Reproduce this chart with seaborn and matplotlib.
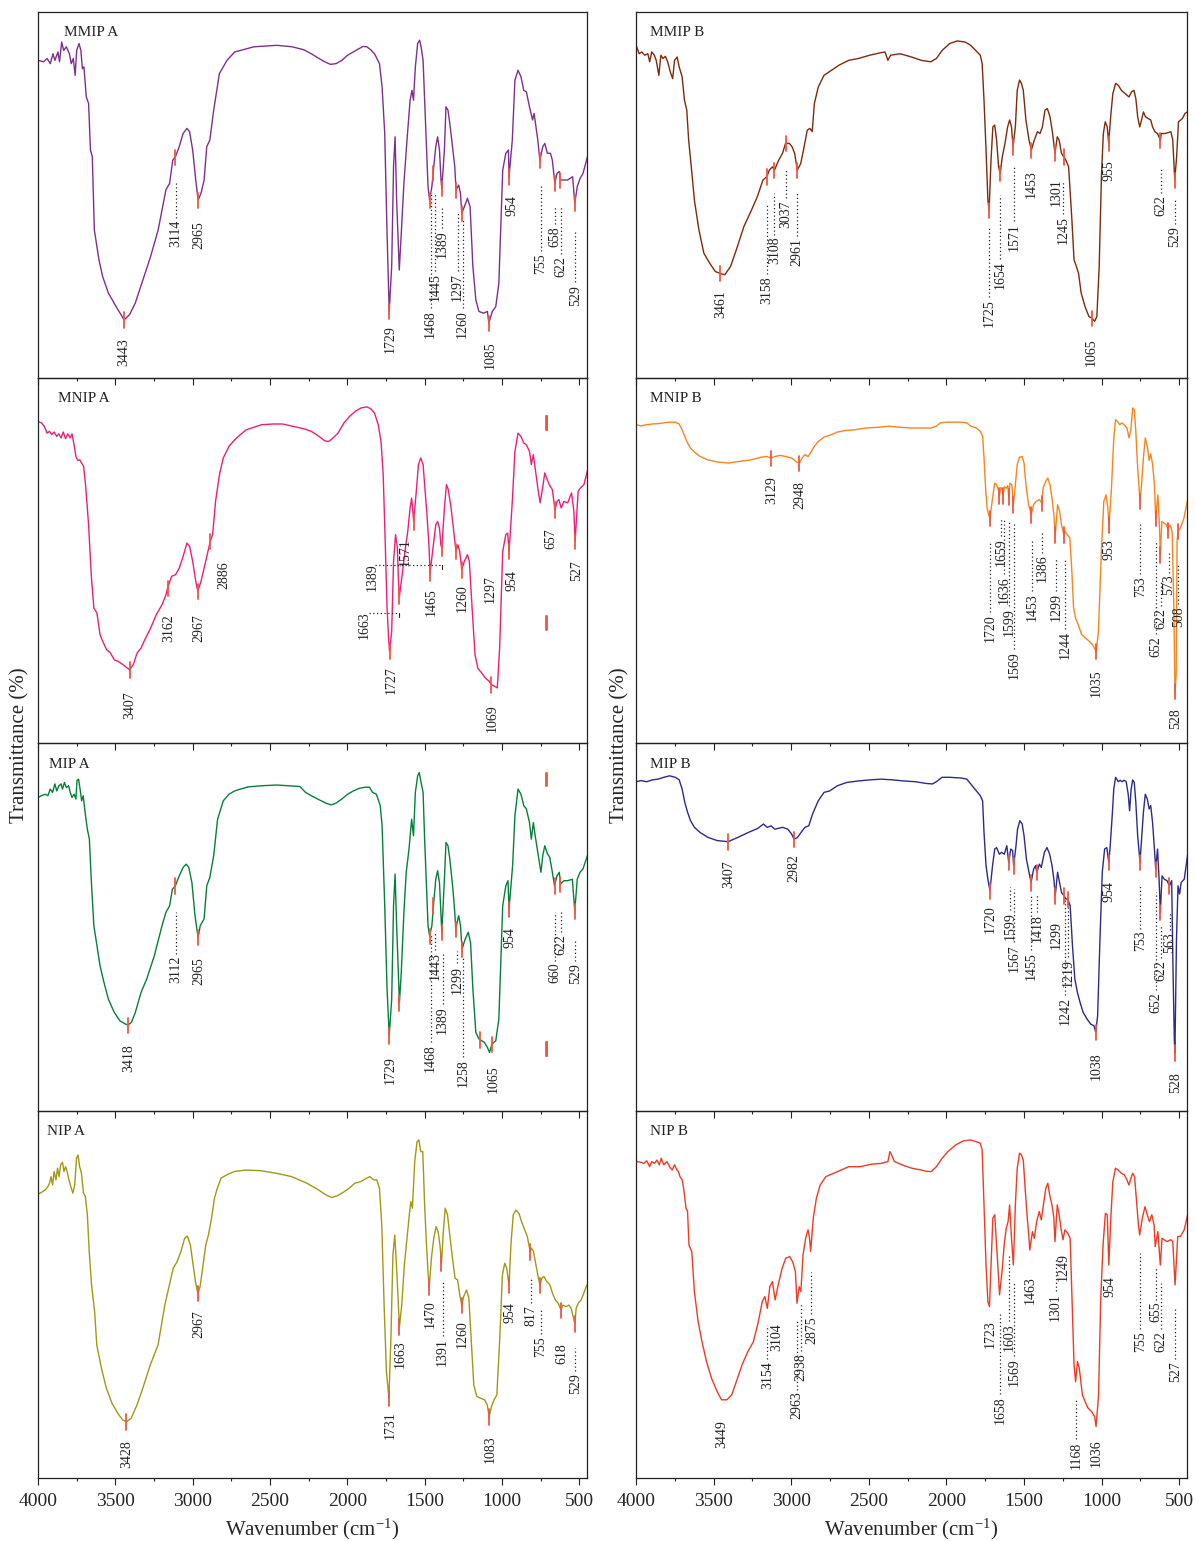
import numpy as np
import matplotlib
matplotlib.use("Agg")
import matplotlib.pyplot as plt
import seaborn as sns

# style
sns.set_style("white")
plt.rcParams['font.family'] = ['Liberation Serif', 'DejaVu Serif']
plt.rcParams['mathtext.fontset'] = 'custom'
plt.rcParams['mathtext.rm'] = 'Liberation Serif'
plt.rcParams['mathtext.it'] = 'Liberation Serif:italic'

# ---------------- spectra (wavenumber, transmittance as % of panel) ----------------
mmip_a_wn = [4000, 3965, 3941, 3921, 3903, 3891, 3871, 3861, 3847, 3834,
             3817, 3797, 3785, 3772, 3760, 3750, 3735, 3723, 3713, 3703,
             3688, 3673, 3661, 3649, 3636, 3606, 3582, 3545, 3495, 3443,
             3408, 3371, 3322, 3272, 3223, 3173, 3149, 3129, 3111, 3087,
             3062, 3037, 3020, 3000, 2980, 2965, 2946, 2926, 2909, 2889,
             2864, 2827, 2778, 2728, 2691, 2604, 2456, 2357, 2282, 2233,
             2183, 2146, 2109, 2072, 2035, 1998, 1961, 1923, 1899, 1874,
             1849, 1824, 1792, 1775, 1758, 1743, 1729, 1713, 1701, 1691,
             1681, 1664, 1651, 1634, 1614, 1594, 1582, 1572, 1560, 1545,
             1532, 1523, 1510, 1500, 1490, 1478, 1468, 1453, 1441, 1428,
             1416, 1404, 1394, 1389, 1372, 1362, 1349, 1337, 1322, 1305,
             1297, 1280, 1268, 1260, 1243, 1223, 1206, 1188, 1169, 1149,
             1119, 1094, 1085, 1062, 1040, 1020, 995, 975, 958, 954,
             933, 916, 896, 877, 859, 842, 822, 802, 792, 780,
             768, 755, 736, 723, 706, 686, 674, 658, 644, 629,
             622, 599, 575, 543, 529, 513, 495, 476, 444]
mmip_a_tr = [86.8, 86.4, 87.3, 85.9, 88.6, 86.8, 89.1, 86.4, 91.8, 89.5,
             90.5, 88.6, 85.9, 87.3, 82.7, 89.5, 91.4, 89.5, 84.5, 85.0,
             76.8, 75.0, 62.3, 60.5, 40.5, 32.3, 27.7, 23.2, 19.5, 15.9,
             17.3, 20.5, 26.8, 33.2, 40.5, 51.4, 53.2, 59.5, 60.5, 63.2,
             66.8, 68.2, 67.3, 62.3, 54.1, 48.6, 50.5, 54.1, 63.2, 65.0,
             73.2, 83.2, 86.8, 89.1, 89.5, 90.5, 90.9, 90.5, 89.7, 88.6,
             87.3, 86.4, 85.7, 85.9, 86.8, 88.2, 89.1, 90.0, 90.6, 90.5,
             89.7, 88.6, 85.9, 79.5, 66.8, 39.5, 18.2, 30.5, 57.7, 65.9,
             48.6, 29.5, 39.5, 53.2, 65.0, 75.9, 78.6, 75.9, 85.0, 91.4,
             92.3, 90.5, 86.8, 75.9, 65.0, 52.3, 48.6, 52.3, 57.7, 63.2,
             65.9, 62.3, 54.1, 51.8, 62.3, 74.1, 73.2, 69.5, 64.1, 57.7,
             51.4, 52.7, 50.5, 45.0, 46.8, 49.1, 46.8, 30.5, 21.4, 18.2,
             17.7, 18.2, 15.0, 18.2, 19.5, 25.9, 56.8, 61.4, 62.3, 55.0,
             65.0, 81.4, 84.1, 82.3, 78.6, 78.2, 74.1, 70.5, 72.3, 68.6,
             65.0, 59.5, 63.2, 64.1, 61.4, 61.4, 59.5, 53.2, 55.9, 56.4,
             54.1, 54.1, 54.1, 55.0, 47.7, 52.3, 54.5, 55.9, 60.9]

mmip_b_wn = [4000, 3980, 3963, 3944, 3924, 3912, 3899, 3882, 3870, 3853,
             3840, 3826, 3811, 3796, 3779, 3764, 3752, 3735, 3722, 3703,
             3688, 3673, 3661, 3644, 3624, 3595, 3563, 3526, 3489, 3461,
             3428, 3391, 3354, 3305, 3256, 3219, 3182, 3158, 3141, 3121,
             3108, 3081, 3056, 3037, 3012, 2995, 2978, 2961, 2939, 2921,
             2897, 2880, 2865, 2851, 2826, 2789, 2740, 2691, 2630, 2568,
             2494, 2433, 2396, 2377, 2360, 2298, 2224, 2163, 2101, 2065,
             2028, 1979, 1930, 1880, 1844, 1812, 1782, 1770, 1758, 1745,
             1733, 1725, 1713, 1701, 1689, 1677, 1664, 1654, 1640, 1623,
             1606, 1593, 1581, 1571, 1556, 1544, 1529, 1517, 1505, 1488,
             1468, 1453, 1434, 1414, 1397, 1382, 1365, 1350, 1333, 1316,
             1301, 1286, 1274, 1259, 1245, 1230, 1213, 1193, 1178, 1163,
             1149, 1132, 1107, 1082, 1065, 1045, 1031, 1016, 1001, 989,
             977, 964, 955, 942, 928, 910, 893, 873, 849, 824,
             807, 792, 780, 768, 755, 743, 731, 718, 701, 684,
             672, 657, 640, 622, 616, 591, 554, 542, 529, 517,
             505, 480, 463, 448]
mmip_b_tr = [91.0, 88.6, 89.1, 88.2, 88.6, 86.4, 89.1, 88.2, 86.8, 82.7,
             88.2, 87.3, 87.9, 86.4, 83.6, 81.8, 86.8, 87.7, 85.0, 82.3,
             75.9, 73.2, 65.0, 57.7, 48.6, 40.5, 34.1, 31.4, 29.1, 28.6,
             28.2, 30.5, 35.0, 41.4, 45.9, 49.5, 54.1, 55.0, 56.8, 57.7,
             56.8, 59.5, 61.4, 64.1, 64.1, 63.2, 61.4, 56.8, 58.6, 62.3,
             67.7, 68.2, 67.3, 75.0, 79.5, 82.7, 84.1, 85.5, 86.8, 87.3,
             88.2, 88.8, 89.1, 86.8, 88.2, 88.6, 87.7, 86.8, 86.4, 87.3,
             89.5, 91.4, 92.1, 91.8, 90.9, 89.5, 88.2, 85.9, 75.9, 62.3,
             48.6, 45.9, 59.5, 68.6, 69.1, 65.0, 57.7, 55.9, 60.5, 64.1,
             68.6, 70.5, 68.6, 63.2, 68.6, 78.6, 81.4, 80.5, 78.6, 70.5,
             65.0, 62.3, 65.0, 67.3, 66.8, 68.6, 73.2, 73.6, 71.4, 66.8,
             61.4, 65.9, 65.0, 61.4, 60.5, 59.5, 57.7, 44.1, 32.3, 30.5,
             28.6, 23.2, 19.5, 16.8, 16.4, 15.5, 16.8, 30.5, 55.9, 66.8,
             70.0, 68.6, 64.1, 71.4, 77.7, 80.5, 80.0, 78.6, 77.7, 76.8,
             78.2, 78.6, 76.4, 71.4, 68.6, 70.5, 72.7, 71.4, 70.9, 70.5,
             68.6, 67.3, 66.8, 65.0, 66.8, 66.8, 67.3, 65.0, 54.1, 60.5,
             70.0, 70.9, 72.3, 72.7]

mnip_a_wn = [4000, 3978, 3960, 3941, 3926, 3911, 3896, 3879, 3866, 3851,
             3837, 3822, 3807, 3792, 3780, 3767, 3755, 3743, 3730, 3718,
             3705, 3693, 3673, 3656, 3639, 3619, 3599, 3582, 3557, 3532,
             3507, 3483, 3451, 3421, 3407, 3384, 3359, 3334, 3310, 3272,
             3235, 3198, 3173, 3162, 3136, 3111, 3087, 3062, 3037, 3020,
             3000, 2980, 2967, 2946, 2926, 2906, 2886, 2871, 2852, 2827,
             2802, 2765, 2728, 2691, 2654, 2604, 2555, 2480, 2419, 2357,
             2282, 2233, 2183, 2146, 2121, 2097, 2060, 2022, 1985, 1948,
             1911, 1874, 1849, 1824, 1800, 1782, 1768, 1755, 1743, 1733,
             1727, 1713, 1701, 1688, 1676, 1669, 1663, 1648, 1627, 1609,
             1594, 1584, 1578, 1571, 1552, 1540, 1525, 1510, 1498, 1485,
             1471, 1465, 1446, 1428, 1416, 1404, 1395, 1389, 1372, 1359,
             1347, 1329, 1312, 1297, 1285, 1273, 1260, 1243, 1223, 1211,
             1193, 1174, 1156, 1131, 1107, 1082, 1069, 1045, 1030, 1015,
             995, 975, 963, 954, 933, 916, 896, 877, 859, 842,
             822, 810, 797, 785, 768, 753, 737, 723, 711, 694,
             674, 657, 644, 632, 617, 599, 575, 550, 535, 527,
             507, 492, 470, 443]
mnip_a_tr = [88.1, 87.7, 86.8, 84.9, 85.4, 84.5, 85.2, 84.0, 84.7, 83.6,
             85.2, 83.4, 84.7, 83.6, 84.7, 81.7, 78.5, 77.4, 77.6, 76.7,
             75.8, 70.8, 59.8, 46.1, 37.0, 35.6, 29.7, 27.9, 25.6, 24.7,
             22.8, 22.4, 21.5, 20.5, 20.1, 21.5, 24.7, 26.0, 28.3, 31.5,
             35.2, 37.9, 40.6, 42.5, 45.7, 46.1, 47.9, 51.1, 54.8, 53.9,
             49.8, 44.3, 41.6, 44.3, 47.9, 51.6, 55.3, 57.1, 66.2, 73.5,
             78.1, 81.3, 83.1, 84.5, 85.8, 86.5, 87.2, 87.4, 87.4, 86.8,
             86.1, 85.4, 84.0, 82.8, 82.6, 83.4, 84.9, 87.7, 89.5, 90.9,
             91.8, 92.1, 91.6, 90.4, 87.2, 82.6, 73.5, 55.3, 37.0, 28.8,
             25.1, 30.6, 49.8, 57.1, 53.4, 44.3, 40.2, 45.2, 52.5, 58.0,
             64.4, 67.1, 64.4, 60.7, 69.9, 76.3, 78.1, 76.3, 69.9, 62.6,
             53.4, 46.6, 53.4, 59.8, 60.7, 58.9, 54.3, 53.4, 64.4, 70.8,
             69.4, 64.4, 58.0, 52.5, 54.3, 52.5, 47.5, 49.8, 51.6, 49.8,
             37.0, 24.2, 20.5, 19.2, 17.8, 16.9, 16.0, 15.5, 15.1, 26.0,
             52.5, 57.1, 57.5, 52.5, 66.2, 79.9, 84.9, 84.0, 82.2, 81.7,
             79.9, 76.3, 79.0, 75.3, 69.9, 65.8, 69.9, 74.0, 72.6, 70.8,
             69.4, 63.9, 66.2, 66.7, 64.4, 66.2, 65.8, 68.5, 63.5, 55.3,
             69.0, 69.9, 70.8, 75.3]

mnip_b_wn = [4000, 3968, 3931, 3894, 3858, 3821, 3784, 3747, 3722, 3703,
             3686, 3668, 3649, 3624, 3587, 3538, 3477, 3403, 3330, 3256,
             3194, 3158, 3129, 3104, 3072, 3035, 2998, 2966, 2948, 2929,
             2912, 2892, 2875, 2851, 2826, 2789, 2740, 2703, 2654, 2593,
             2519, 2445, 2372, 2298, 2224, 2151, 2101, 2065, 2040, 2003,
             1954, 1905, 1868, 1844, 1807, 1782, 1767, 1758, 1748, 1738,
             1728, 1720, 1703, 1689, 1677, 1666, 1659, 1650, 1642, 1636,
             1627, 1615, 1605, 1599, 1591, 1579, 1569, 1556, 1544, 1529,
             1512, 1500, 1488, 1471, 1453, 1439, 1422, 1402, 1386, 1377,
             1360, 1347, 1333, 1320, 1308, 1299, 1284, 1271, 1259, 1244,
             1237, 1222, 1205, 1193, 1181, 1168, 1151, 1129, 1105, 1080,
             1058, 1035, 1021, 1001, 986, 972, 960, 953, 938, 923,
             911, 898, 884, 869, 855, 837, 824, 812, 800, 790,
             780, 768, 753, 743, 731, 719, 706, 694, 684, 672,
             660, 652, 638, 628, 622, 612, 600, 583, 573, 560,
             546, 535, 528, 520, 514, 508, 492, 470, 444]
mnip_b_tr = [87.2, 86.9, 87.2, 87.4, 87.5, 87.7, 87.9, 87.9, 87.4, 85.8,
             84.0, 82.2, 80.8, 79.7, 78.5, 77.6, 77.0, 76.7, 77.2, 77.6,
             78.3, 78.5, 78.1, 78.5, 78.8, 78.5, 78.1, 77.0, 76.7, 78.1,
             79.0, 78.5, 79.5, 81.3, 82.6, 83.8, 84.5, 85.2, 85.6, 85.8,
             86.3, 86.5, 86.8, 86.5, 86.3, 86.3, 86.3, 86.8, 87.7, 87.9,
             87.9, 87.9, 87.7, 86.8, 86.3, 85.4, 84.0, 78.1, 69.9, 64.4,
             62.6, 61.6, 67.1, 71.2, 70.8, 69.5, 67.8, 70.0, 69.5, 67.8,
             70.2, 69.8, 70.5, 67.5, 71.2, 70.8, 65.3, 70.8, 76.3, 78.3,
             78.5, 76.7, 70.8, 65.3, 62.6, 65.3, 66.2, 66.7, 65.8, 69.9,
             71.7, 72.6, 70.8, 67.1, 62.6, 57.1, 65.3, 63.5, 59.8, 57.1,
             58.0, 57.1, 56.2, 47.9, 37.0, 34.2, 32.4, 29.7, 28.8, 27.9,
             26.9, 25.1, 30.6, 53.4, 66.2, 68.0, 64.4, 59.8, 68.9, 82.6,
             88.6, 88.1, 87.2, 87.7, 87.2, 86.3, 83.6, 85.8, 91.8, 91.3,
             85.4, 75.3, 66.2, 70.8, 78.1, 83.6, 81.3, 77.4, 79.2, 76.4,
             70.8, 61.6, 68.0, 59.8, 51.6, 60.7, 60.3, 59.8, 58.4, 59.8,
             58.0, 37.0, 14.2, 18.7, 55.3, 58.0, 58.9, 61.6, 67.1]

mip_a_wn = [4000, 3978, 3953, 3936, 3921, 3906, 3891, 3879, 3866, 3851,
            3842, 3829, 3817, 3802, 3792, 3780, 3767, 3755, 3748, 3738,
            3728, 3718, 3708, 3693, 3681, 3668, 3656, 3639, 3619, 3599,
            3574, 3545, 3507, 3470, 3433, 3418, 3396, 3371, 3334, 3297,
            3248, 3198, 3173, 3149, 3131, 3112, 3087, 3062, 3042, 3025,
            3005, 2985, 2965, 2951, 2926, 2909, 2889, 2864, 2839, 2802,
            2765, 2728, 2691, 2641, 2555, 2456, 2381, 2307, 2270, 2233,
            2183, 2134, 2104, 2072, 2035, 1998, 1961, 1923, 1886, 1856,
            1837, 1812, 1787, 1775, 1758, 1743, 1729, 1713, 1701, 1691,
            1681, 1669, 1663, 1651, 1634, 1619, 1601, 1584, 1572, 1560,
            1545, 1535, 1523, 1510, 1500, 1490, 1478, 1468, 1453, 1443,
            1428, 1416, 1404, 1394, 1389, 1372, 1362, 1349, 1337, 1317,
            1305, 1299, 1280, 1268, 1258, 1238, 1218, 1203, 1188, 1169,
            1149, 1131, 1114, 1094, 1080, 1065, 1040, 1020, 995, 975,
            961, 954, 931, 916, 896, 877, 859, 842, 822, 810,
            797, 785, 768, 748, 736, 723, 706, 691, 674, 660,
            644, 629, 622, 599, 575, 545, 529, 513, 495, 476,
            444]
mip_a_tr = [85.2, 85.7, 86.1, 85.7, 87.5, 86.6, 88.9, 87.0, 88.3, 88.9,
            87.5, 89.3, 87.9, 88.4, 86.6, 85.2, 86.1, 84.8, 89.8, 90.2,
            87.5, 84.3, 85.7, 80.3, 76.6, 73.9, 63.0, 50.4, 44.9, 39.5,
            35.0, 30.4, 26.8, 24.5, 23.6, 23.4, 24.1, 26.8, 32.2, 35.9,
            42.2, 50.4, 54.0, 55.8, 60.3, 61.2, 63.9, 66.2, 67.1, 66.2,
            62.1, 53.1, 47.2, 50.4, 52.2, 61.2, 63.5, 69.4, 79.3, 84.3,
            86.1, 87.0, 87.5, 88.1, 88.4, 88.6, 88.4, 88.2, 86.6, 85.7,
            84.6, 83.6, 83.2, 83.7, 84.8, 86.1, 87.0, 87.7, 88.0, 88.0,
            86.6, 86.1, 83.0, 77.5, 55.8, 33.2, 20.5, 30.4, 55.8, 64.4,
            50.4, 35.9, 29.5, 37.7, 54.0, 64.9, 71.2, 79.3, 74.8, 86.6,
            91.1, 92.0, 89.3, 86.6, 73.9, 63.0, 50.4, 47.6, 50.4, 55.8,
            63.0, 65.3, 62.1, 53.1, 48.6, 63.0, 73.0, 72.1, 68.5, 60.3,
            54.0, 49.5, 53.1, 50.4, 44.0, 46.7, 48.6, 45.8, 33.2, 21.4,
            19.6, 19.1, 18.7, 17.3, 15.9, 18.2, 19.1, 25.0, 55.8, 61.2,
            62.6, 54.9, 66.7, 80.3, 87.5, 86.1, 83.0, 82.1, 78.4, 73.9,
            78.4, 74.8, 70.3, 64.9, 69.4, 72.1, 69.9, 69.0, 64.9, 61.2,
            63.9, 64.9, 61.7, 62.6, 62.6, 63.0, 54.4, 63.0, 64.9, 65.8,
            69.8]

mip_b_wn = [4000, 3968, 3931, 3894, 3858, 3821, 3784, 3747, 3722, 3703,
            3686, 3668, 3649, 3624, 3587, 3538, 3477, 3407, 3342, 3277,
            3216, 3179, 3155, 3130, 3106, 3056, 3022, 2998, 2982, 2961,
            2937, 2912, 2887, 2863, 2826, 2789, 2752, 2703, 2642, 2568,
            2494, 2421, 2347, 2273, 2200, 2126, 2089, 2065, 2028, 1979,
            1905, 1868, 1844, 1807, 1782, 1767, 1758, 1745, 1733, 1720,
            1703, 1689, 1677, 1659, 1645, 1627, 1611, 1599, 1586, 1574,
            1567, 1552, 1542, 1527, 1512, 1500, 1485, 1468, 1455, 1438,
            1426, 1418, 1401, 1389, 1369, 1352, 1335, 1320, 1308, 1299,
            1284, 1271, 1259, 1242, 1230, 1219, 1203, 1188, 1173, 1156,
            1139, 1119, 1094, 1070, 1050, 1038, 1026, 1011, 996, 981,
            967, 954, 945, 932, 922, 910, 893, 881, 869, 855,
            842, 829, 820, 810, 800, 790, 780, 768, 753, 743,
            731, 719, 706, 694, 684, 672, 660, 652, 640, 630,
            622, 611, 596, 579, 563, 549, 540, 532, 528, 518,
            508, 498, 488, 468, 444]
mip_b_tr = [89.5, 89.8, 89.5, 90.0, 90.2, 90.7, 91.1, 90.7, 90.0, 87.5,
            83.9, 81.2, 78.9, 77.1, 75.7, 74.4, 73.5, 73.2, 74.4, 75.7,
            76.8, 78.0, 77.1, 77.5, 76.6, 77.1, 76.6, 75.3, 73.9, 74.3,
            75.7, 77.1, 77.5, 80.7, 84.3, 86.6, 87.0, 88.4, 89.3, 89.7,
            90.0, 90.2, 90.0, 89.7, 89.5, 89.0, 88.9, 89.5, 90.7, 90.7,
            90.5, 90.2, 88.9, 87.0, 85.7, 84.3, 75.7, 66.7, 63.0, 59.9,
            66.7, 71.2, 71.6, 69.8, 70.3, 69.8, 72.1, 67.6, 71.2, 70.8,
            66.7, 72.1, 76.6, 78.9, 78.0, 74.8, 68.5, 64.9, 62.1, 65.8,
            66.7, 64.9, 67.1, 66.2, 70.3, 71.6, 69.8, 66.7, 63.0, 58.5,
            64.9, 62.1, 59.4, 58.5, 57.6, 57.6, 55.8, 44.9, 35.9, 32.2,
            29.5, 26.8, 25.0, 23.6, 23.2, 21.4, 25.9, 46.7, 64.9, 71.2,
            71.6, 67.6, 72.1, 80.3, 87.5, 90.7, 89.5, 89.9, 89.5, 89.9,
            89.5, 86.1, 81.6, 87.5, 90.0, 89.3, 83.9, 74.8, 67.6, 73.9,
            81.2, 86.1, 84.8, 82.1, 83.0, 78.4, 71.2, 65.8, 71.2, 63.0,
            54.0, 63.9, 63.0, 62.6, 61.2, 62.6, 37.7, 19.6, 15.9, 46.7,
            61.2, 59.0, 62.1, 63.0, 70.3]

nip_a_wn = [4000, 3978, 3953, 3936, 3926, 3916, 3906, 3896, 3884, 3874,
            3864, 3854, 3842, 3832, 3822, 3812, 3800, 3788, 3775, 3763,
            3751, 3741, 3731, 3719, 3706, 3694, 3681, 3669, 3654, 3634,
            3620, 3590, 3558, 3521, 3484, 3452, 3428, 3397, 3360, 3323,
            3274, 3224, 3180, 3150, 3126, 3101, 3076, 3052, 3034, 3015,
            2997, 2982, 2967, 2952, 2933, 2915, 2898, 2878, 2859, 2841,
            2816, 2779, 2730, 2656, 2557, 2459, 2360, 2261, 2187, 2137,
            2101, 2064, 2027, 1989, 1952, 1915, 1878, 1854, 1829, 1809,
            1792, 1777, 1762, 1747, 1731, 1718, 1705, 1693, 1680, 1668,
            1663, 1648, 1631, 1614, 1599, 1589, 1579, 1564, 1549, 1537,
            1525, 1512, 1500, 1488, 1477, 1470, 1456, 1441, 1426, 1413,
            1401, 1391, 1379, 1367, 1352, 1335, 1317, 1303, 1287, 1273,
            1260, 1248, 1229, 1214, 1199, 1182, 1162, 1137, 1112, 1095,
            1083, 1068, 1051, 1033, 1014, 997, 982, 969, 954, 942,
            927, 910, 890, 873, 853, 836, 817, 809, 796, 784,
            772, 755, 742, 729, 710, 690, 673, 655, 636, 618,
            606, 586, 567, 552, 529, 520, 507, 488, 471, 451]
nip_a_tr = [77.3, 77.8, 78.5, 79.4, 80.3, 82.1, 79.8, 83.5, 81.2, 84.4,
            82.1, 85.3, 86.0, 83.5, 84.8, 83.5, 81.2, 79.4, 77.6, 79.8,
            87.1, 88.0, 84.8, 83.0, 77.6, 76.7, 71.7, 61.7, 52.6, 45.3,
            36.2, 29.9, 24.4, 20.3, 17.6, 15.8, 15.3, 16.3, 19.9, 24.4,
            30.8, 36.2, 47.1, 52.6, 57.1, 58.9, 61.7, 65.3, 65.9, 63.5,
            58.0, 53.5, 50.3, 52.1, 58.0, 63.5, 66.2, 70.8, 76.2, 78.9,
            81.7, 82.6, 83.5, 83.9, 83.7, 83.0, 82.1, 80.3, 78.5, 77.1,
            76.4, 76.9, 77.8, 78.9, 80.3, 80.7, 81.6, 82.1, 81.2, 81.2,
            78.9, 68.9, 47.1, 29.0, 21.7, 38.1, 60.8, 66.2, 56.2, 45.3,
            41.2, 47.1, 58.0, 65.3, 71.7, 75.3, 73.5, 86.2, 91.6, 92.1,
            88.9, 88.9, 74.4, 63.5, 55.3, 52.1, 59.9, 65.3, 68.5, 67.1,
            63.5, 58.5, 67.1, 73.5, 71.7, 65.3, 58.9, 54.4, 54.0, 49.9,
            47.1, 49.4, 51.2, 49.0, 38.1, 25.3, 22.2, 21.7, 21.3, 19.9,
            16.7, 19.4, 21.3, 22.6, 38.1, 55.3, 58.5, 57.1, 52.6, 63.5,
            71.7, 73.0, 72.1, 69.8, 67.6, 65.8, 61.7, 62.6, 61.7, 58.9,
            56.2, 52.6, 54.4, 54.9, 53.5, 52.6, 50.3, 48.5, 47.6, 45.8,
            47.1, 46.7, 47.1, 46.2, 42.1, 46.2, 47.6, 48.5, 50.3, 52.6]

nip_b_wn = [4000, 3968, 3949, 3931, 3912, 3899, 3882, 3865, 3850, 3838,
            3821, 3801, 3784, 3767, 3752, 3737, 3727, 3717, 3703, 3693,
            3678, 3668, 3659, 3641, 3624, 3600, 3575, 3546, 3514, 3477,
            3449, 3415, 3384, 3354, 3317, 3280, 3244, 3212, 3187, 3170,
            3154, 3138, 3121, 3104, 3084, 3059, 3035, 3010, 2991, 2973,
            2963, 2949, 2938, 2924, 2907, 2892, 2882, 2875, 2858, 2838,
            2814, 2777, 2728, 2679, 2630, 2556, 2482, 2421, 2377, 2365,
            2353, 2335, 2286, 2224, 2163, 2126, 2097, 2065, 2028, 1991,
            1942, 1893, 1844, 1807, 1782, 1770, 1758, 1745, 1733, 1723,
            1713, 1701, 1689, 1677, 1664, 1658, 1642, 1628, 1615, 1603,
            1593, 1581, 1569, 1556, 1544, 1529, 1517, 1505, 1493, 1481,
            1470, 1463, 1446, 1434, 1419, 1402, 1389, 1375, 1360, 1347,
            1335, 1320, 1308, 1301, 1286, 1274, 1262, 1249, 1237, 1218,
            1203, 1190, 1178, 1168, 1156, 1144, 1124, 1107, 1087, 1065,
            1045, 1036, 1020, 1006, 991, 976, 964, 954, 940, 928,
            911, 893, 873, 854, 837, 824, 812, 800, 788, 775,
            763, 755, 738, 721, 706, 692, 677, 662, 655, 638,
            622, 611, 598, 579, 554, 542, 527, 520, 510, 493,
            468, 444]
nip_b_tr = [86.2, 86.0, 85.7, 86.4, 84.8, 86.2, 85.7, 86.6, 85.3, 87.1,
            85.3, 86.2, 84.8, 83.9, 85.3, 83.9, 83.5, 82.1, 81.2, 78.9,
            73.5, 72.6, 63.5, 61.7, 50.8, 42.6, 37.1, 31.7, 27.2, 23.5,
            21.3, 21.3, 22.6, 26.2, 30.8, 34.4, 37.1, 42.6, 48.0, 49.4,
            46.2, 52.1, 53.5, 48.5, 52.6, 57.1, 59.9, 60.3, 58.9, 56.2,
            47.6, 52.1, 50.8, 60.8, 65.3, 67.6, 65.3, 61.7, 70.8, 76.2,
            79.8, 82.1, 83.0, 83.9, 84.8, 84.8, 85.5, 85.7, 86.2, 88.9,
            88.0, 86.2, 85.3, 84.4, 83.9, 83.5, 83.5, 84.8, 87.1, 88.9,
            90.7, 91.8, 92.1, 91.6, 91.2, 89.4, 74.4, 58.0, 48.0, 46.7,
            58.0, 70.8, 71.7, 63.5, 54.4, 49.9, 56.2, 63.5, 68.0, 69.8,
            74.4, 65.3, 58.0, 74.4, 84.4, 88.5, 88.0, 86.6, 78.9, 71.7,
            66.2, 62.1, 67.1, 65.3, 69.8, 72.6, 70.3, 74.4, 78.9, 80.3,
            77.1, 74.4, 70.8, 64.4, 74.4, 71.7, 68.0, 64.9, 67.6, 66.7,
            65.3, 47.1, 30.8, 26.2, 31.7, 29.9, 22.6, 20.8, 19.0, 18.1,
            16.7, 14.0, 22.6, 49.0, 63.5, 72.1, 71.7, 58.0, 71.7, 80.7,
            84.4, 83.9, 83.0, 82.6, 81.2, 79.8, 81.6, 83.0, 82.1, 75.3,
            68.9, 66.2, 70.8, 73.9, 71.7, 69.8, 71.7, 68.9, 63.0, 67.1,
            58.0, 65.3, 64.9, 64.4, 64.9, 64.4, 52.6, 58.0, 65.8, 65.8,
            67.6, 72.1]

# ---------------- labelled peaks ----------------
mmip_a_peaks = [3443, 3114, 2965, 1729, 1468, 1445, 1389, 1297, 1260, 1085,
                954, 755, 658, 622, 529]
mmip_b_peaks = [3461, 3158, 3108, 3037, 2961, 1725, 1654, 1571, 1453, 1301,
                1245, 1065, 955, 622, 529]
mnip_a_peaks = [3407, 3162, 2967, 2886, 1727, 1663, 1389, 1571, 1465, 1260,
                1297, 1069, 954, 657, 527]
mnip_b_peaks = [3129, 2948, 1720, 1659, 1636, 1599, 1569, 1453, 1386, 1299,
                1244, 1035, 953, 753, 652, 622, 573, 508, 528]
mip_a_peaks = [3418, 3112, 2965, 1729, 1468, 1443, 1389, 1299, 1258, 1065,
               954, 660, 622, 529]
mip_b_peaks = [3407, 2982, 1720, 1599, 1567, 1455, 1418, 1299, 1242, 1219,
               1038, 954, 753, 652, 622, 563, 528]
nip_a_peaks = [3428, 2967, 1731, 1663, 1470, 1391, 1260, 1083, 954, 817,
               755, 618, 529]
nip_b_peaks = [3449, 3154, 3104, 2963, 2938, 2875, 1723, 1658, 1603, 1569,
               1463, 1301, 1249, 1168, 1036, 954, 755, 655, 622, 527]

# ---------------- label placement: (text x, text top, dotted-line top) ----------------
mmip_a_pos = [(3446, 10.9, None), (3111, 43.2, 53.2), (2963, 42.7, None), (1725, 14.5, None),
              (1461, 18.6, 50.5), (1433, 28.6, 50.5), (1386, 40.5, 46.4), (1287, 28.6, 45.0),
              (1255, 18.6, 43.2), (1077, 10.0, None), (938, 50.0, None), (748, 34.1, 52.7),
              (656, 41.4, 46.8), (617, 33.2, 46.8), (525, 25.5, 40.5)]
mmip_b_pos = [(3457, 24.1, None), (3158, 27.7, 47.3), (3108, 38.6, 50.5), (3035, 48.6, 57.3),
              (2961, 38.2, 50.5), (1723, 21.4, 40.9), (1652, 31.8, 50.0), (1566, 42.3, 58.2),
              (1451, 56.8, None), (1291, 54.5, None), (1247, 44.1, 53.6), (1065, 10.9, None),
              (952, 59.5, None), (620, 50.0, 57.7), (530, 41.4, 48.6)]
mnip_a_pos = [(3404, 14.2, None), (3156, 35.2, None), (2963, 35.2, None), (2795, 49.8, None),
              (1718, 21.0, None), (1891, 36.1, None), (1842, 49.3, None), (1626, 56.2, None),
              (1458, 42.5, None), (1255, 43.4, None), (1075, 46.1, None), (1065, 10.5, None),
              (938, 47.5, None), (686, 58.9, None), (518, 50.2, None)]
mnip_b_pos = [(3128, 73.1, None), (2944, 71.7, None), (1718, 35.2, 54.8), (1647, 56.2, 61.6),
              (1630, 45.7, 61.2), (1598, 37.0, 60.7), (1566, 25.1, 60.3), (1448, 41.1, 55.7),
              (1384, 51.6, 57.5), (1291, 41.1, 50.7), (1237, 30.6, 50.7), (1033, 20.1, None),
              (952, 55.7, None), (751, 45.7, 60.3), (648, 29.2, 55.3), (618, 37.0, 44.7),
              (567, 46.1, 52.1), (505, 37.4, 48.9), (525, 9.6, None)]
mip_a_pos = [(3416, 18.2, None), (3111, 42.2, 54.0), (2963, 41.8, None), (1725, 15.0, None),
             (1461, 18.2, 48.1), (1433, 43.1, 48.6), (1384, 28.6, 43.1), (1292, 39.5, 43.6),
             (1250, 14.1, 42.2), (1057, 12.3, None), (946, 49.9, None), (656, 40.3, 54.0),
             (617, 48.1, 54.4), (525, 40.3, 46.7)]
mip_b_pos = [(3403, 68.0, None), (2981, 69.8, None), (1718, 55.8, None), (1591, 54.0, 60.8),
             (1566, 45.4, 60.3), (1453, 43.1, 59.0), (1414, 53.5, 59.0), (1291, 51.7, None),
             (1237, 30.9, 57.6), (1217, 41.3, 57.2), (1033, 15.9, None), (952, 62.6, None),
             (751, 49.0, 61.2), (648, 32.2, 59.4), (618, 40.9, 50.4), (562, 48.6, 54.0),
             (525, 10.5, None)]
nip_a_pos = [(3427, 10.4, None), (2963, 45.8, None), (1725, 18.1, None), (1656, 37.6, None),
             (1461, 48.5, None), (1384, 38.1, 53.5), (1255, 43.1, None), (1077, 11.7, None),
             (946, 48.0, None), (815, 47.1, 54.4), (748, 38.5, 45.8), (612, 36.7, None),
             (525, 28.5, 35.3)]
nip_b_pos = [(3447, 15.8, None), (3153, 31.7, 41.7), (3096, 42.1, None), (2961, 23.5, 43.1),
             (2937, 34.0, 47.6), (2870, 44.0, 56.2), (1721, 43.1, None), (1655, 22.2, 44.9),
             (1598, 42.1, 60.8), (1566, 32.6, 53.5), (1458, 54.9, None), (1296, 50.3, 59.9),
             (1247, 61.2, None), (1163, 9.9, 21.7), (1033, 10.4, None), (947, 54.9, None),
             (751, 39.9, 61.2), (652, 48.0, 57.6), (618, 39.9, 53.0), (525, 31.7, 46.7)]

# horizontal leaders in MNIP A: (peak, start x, y)
mnip_a_hlead = [(1663, 1862, 35.6), (1389, 1824, 48.9)]

# stray red marks printed in the source figure: (x, y0, y1)
mnip_a_stray = [(709, 85.8, 89.5), (711, 85.8, 89.5), (713, 85.8, 89.5),
                (709, 31.0, 34.7), (714, 31.0, 34.7)]
mip_a_stray = [(709, 88.4, 92.0), (714, 88.4, 92.0), (707, 15.0, 18.7), (711, 15.0, 18.7),
               (715, 15.0, 18.7)]

# extra red peak marks without labels
mip_a_extra = [1663, 1143]

panels = [
    ("MMIP A", 0, 0, mmip_a_wn, mmip_a_tr, mmip_a_peaks, mmip_a_pos, "#7e2f8e", 0.047),
    ("MMIP B", 0, 1, mmip_b_wn, mmip_b_tr, mmip_b_peaks, mmip_b_pos, "#7f2a0a", 0.025),
    ("MNIP A", 1, 0, mnip_a_wn, mnip_a_tr, mnip_a_peaks, mnip_a_pos, "#ec1e79", 0.036),
    ("MNIP B", 1, 1, mnip_b_wn, mnip_b_tr, mnip_b_peaks, mnip_b_pos, "#f7851e", 0.025),
    ("MIP A", 2, 0, mip_a_wn, mip_a_tr, mip_a_peaks, mip_a_pos, "#05803a", 0.020),
    ("MIP B", 2, 1, mip_b_wn, mip_b_tr, mip_b_peaks, mip_b_pos, "#2d2a8e", 0.025),
    ("NIP A", 3, 0, nip_a_wn, nip_a_tr, nip_a_peaks, nip_a_pos, "#a39813", 0.016),
    ("NIP B", 3, 1, nip_b_wn, nip_b_tr, nip_b_peaks, nip_b_pos, "#ee3b24", 0.025),
]

mark_red = "#f2553f"
ink = "#222222"
dots = (0, (1, 2))
col_x = [(0.0318, 0.459), (0.5318, 0.4607)]
row_y = [(0.7547, 0.2375), (0.5178, 0.2369), (0.2790, 0.2388), (0.0409, 0.2382)]

fig = plt.figure(figsize=(11.96, 15.41), dpi=100)

for name, r, c, wn, tr, peaks, pos, color, tx in panels:
    ax = fig.add_axes([col_x[c][0], row_y[r][0], col_x[c][1], row_y[r][1]])
    ax.patch.set_alpha(0)
    wn_arr = np.array(wn, dtype=float)
    tr_arr = np.array(tr, dtype=float)

    sns.lineplot(x=wn_arr, y=tr_arr, ax=ax, color=color, lw=1.0,
                 sort=False, estimator=None, legend=False)

    def curve_at(w):
        return np.interp(w, wn_arr[::-1], tr_arr[::-1])

    # red peak marks
    if name != "NIP B":
        marks = list(peaks)
        if name == "MIP A":
            marks += mip_a_extra
        for p in marks:
            yc = curve_at(p)
            ax.plot([p, p], [yc - 2.2, yc + 2.0], color=mark_red, lw=1.3, zorder=3)

    # labels with dotted leaders
    for p, (lx, top, dtop) in zip(peaks, pos):
        ax.text(lx, top, str(p), rotation=90, ha='center', va='top',
                fontsize=10, color=ink)
        if dtop is not None:
            ax.plot([lx, lx], [top + 0.6, dtop], color=ink, lw=0.9, ls=dots)

    if name == "MNIP A":
        for p, x0, y in mnip_a_hlead:
            ax.plot([x0, p], [y, y], color=ink, lw=0.9, ls=dots)
            ax.plot([p, p], [y, y - 1.2], color=ink, lw=0.8)
        for x, y0, y1 in mnip_a_stray:
            ax.plot([x, x], [y0, y1], color=mark_red, lw=1.3)
    if name == "MIP A":
        for x, y0, y1 in mip_a_stray:
            ax.plot([x, x], [y0, y1], color=mark_red, lw=1.3)

    ax.text(tx, 0.943, name, transform=ax.transAxes, ha='left', va='center',
            fontsize=11, color=ink)

    ax.set_xlim(4000, 450)
    ax.set_ylim(0, 100)
    ax.set_yticks([])
    ax.set_xticks([4000, 3500, 3000, 2500, 2000, 1500, 1000, 500])
    ax.set_xticks([3750, 3250, 2750, 2250, 1750, 1250, 750], minor=True)
    ax.tick_params(axis='x', which='major', direction='out', length=5, width=0.8,
                   color=ink, labelsize=14, pad=6, bottom=True, top=False)
    ax.tick_params(axis='x', which='minor', direction='out', length=2.5, width=0.8,
                   color=ink, bottom=True, top=False)
    if r < 3:
        ax.tick_params(axis='x', which='major', labelbottom=False)
    ax.set_xlabel("")
    ax.set_ylabel("")
    for s in ax.spines.values():
        s.set_color(ink)
        s.set_linewidth(0.9)

for xc in (0.2613, 0.7617):
    fig.text(xc, 0.0075, r"Wavenumber (cm$^{-1}$)", ha='center', va='center', fontsize=15)
for xc in (0.0167, 0.518):
    fig.text(xc, 0.5165, "Transmittance (%)", rotation=90, ha='center', va='center',
             fontsize=15)

plt.savefig("out.png", dpi=100)
